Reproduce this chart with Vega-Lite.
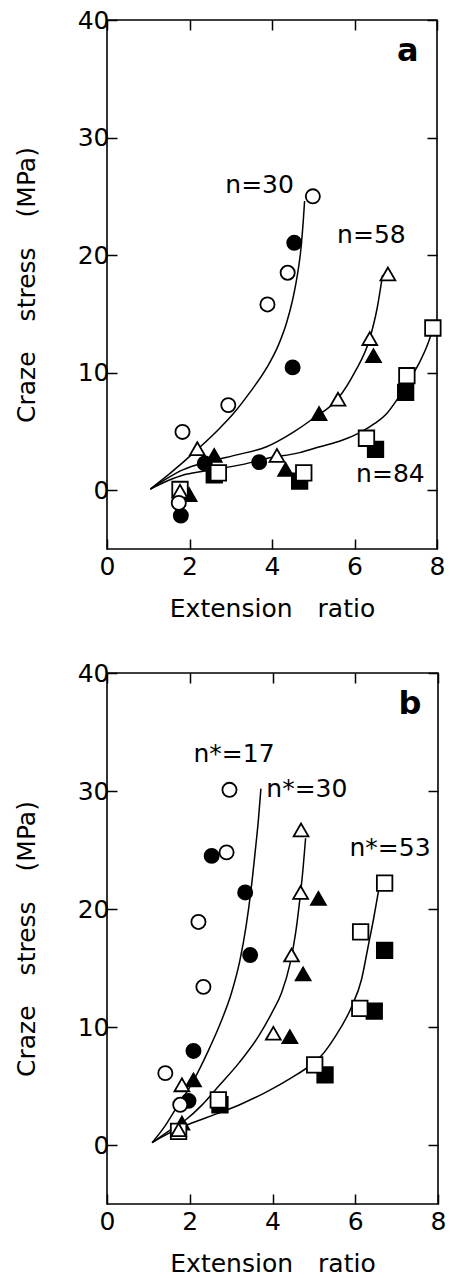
{
  "$schema": "https://vega.github.io/schema/vega-lite/v6.json",
  "background": "white",
  "padding": {"left": 13, "top": 7, "right": 5, "bottom": 5},
  "bounds": "flush",
  "spacing": 124,
  "config": {
    "font": "DejaVu Sans",
    "view": {"stroke": "black", "strokeWidth": 1.6},
    "axis": {
      "grid": false, "domain": false, "tickColor": "black", "tickSize": -10, "tickWidth": 1.5,
      "labelFont": "DejaVu Sans", "labelFontSize": 25, "labelColor": "black", "labelFlush": false,
      "titleFont": "DejaVu Sans", "titleFontSize": 25, "titleFontWeight": "normal", "titleColor": "black",
      "labelPadding": 8
    }
  },
  "datasets": {
    "pts": [
      {"p": "a", "s": "q", "f": "f", "x": 7.24, "y": 8.32},
      {"p": "a", "s": "q", "f": "f", "x": 6.51, "y": 3.48},
      {"p": "a", "s": "q", "f": "f", "x": 4.67, "y": 0.77},
      {"p": "a", "s": "q", "f": "f", "x": 2.6, "y": 1.3},
      {"p": "a", "s": "t", "f": "f", "x": 6.46, "y": 11.45},
      {"p": "a", "s": "t", "f": "f", "x": 5.14, "y": 6.52},
      {"p": "a", "s": "t", "f": "f", "x": 2.6, "y": 2.96},
      {"p": "a", "s": "t", "f": "f", "x": 4.33, "y": 1.77},
      {"p": "a", "s": "t", "f": "f", "x": 1.99, "y": -0.37},
      {"p": "a", "s": "c", "f": "f", "x": 4.54, "y": 21.05},
      {"p": "a", "s": "c", "f": "f", "x": 4.5, "y": 10.45},
      {"p": "a", "s": "c", "f": "f", "x": 3.69, "y": 2.39},
      {"p": "a", "s": "c", "f": "f", "x": 2.37, "y": 2.28},
      {"p": "a", "s": "c", "f": "f", "x": 1.79, "y": -2.16},
      {"p": "a", "s": "q", "f": "o", "x": 7.9, "y": 13.8},
      {"p": "a", "s": "q", "f": "o", "x": 7.27, "y": 9.74},
      {"p": "a", "s": "q", "f": "o", "x": 6.29, "y": 4.42},
      {"p": "a", "s": "q", "f": "o", "x": 4.77, "y": 1.48},
      {"p": "a", "s": "q", "f": "o", "x": 2.7, "y": 1.48},
      {"p": "a", "s": "q", "f": "o", "x": 1.77, "y": 0.06},
      {"p": "a", "s": "t", "f": "o", "x": 6.81, "y": 18.4},
      {"p": "a", "s": "t", "f": "o", "x": 6.37, "y": 12.9},
      {"p": "a", "s": "t", "f": "o", "x": 5.6, "y": 7.75},
      {"p": "a", "s": "t", "f": "o", "x": 4.12, "y": 2.96},
      {"p": "a", "s": "t", "f": "o", "x": 2.19, "y": 3.53},
      {"p": "a", "s": "t", "f": "o", "x": 1.77, "y": -0.09},
      {"p": "a", "s": "c", "f": "o", "x": 4.99, "y": 25.0},
      {"p": "a", "s": "c", "f": "o", "x": 4.38, "y": 18.5},
      {"p": "a", "s": "c", "f": "o", "x": 3.89, "y": 15.8},
      {"p": "a", "s": "c", "f": "o", "x": 2.94, "y": 7.24},
      {"p": "a", "s": "c", "f": "o", "x": 1.83, "y": 4.96},
      {"p": "a", "s": "c", "f": "o", "x": 1.74, "y": -1.08},
      {"p": "b", "s": "q", "f": "f", "x": 6.71, "y": 16.5},
      {"p": "b", "s": "q", "f": "f", "x": 6.46, "y": 11.35},
      {"p": "b", "s": "q", "f": "f", "x": 5.27, "y": 5.94},
      {"p": "b", "s": "q", "f": "f", "x": 2.73, "y": 3.41},
      {"p": "b", "s": "t", "f": "f", "x": 5.11, "y": 20.9},
      {"p": "b", "s": "t", "f": "f", "x": 4.74, "y": 14.5},
      {"p": "b", "s": "t", "f": "f", "x": 4.42, "y": 9.18},
      {"p": "b", "s": "t", "f": "f", "x": 2.09, "y": 5.52},
      {"p": "b", "s": "t", "f": "f", "x": 1.81, "y": 1.86},
      {"p": "b", "s": "c", "f": "f", "x": 2.53, "y": 24.5},
      {"p": "b", "s": "c", "f": "f", "x": 3.34, "y": 21.4},
      {"p": "b", "s": "c", "f": "f", "x": 3.46, "y": 16.1},
      {"p": "b", "s": "c", "f": "f", "x": 2.09, "y": 7.97},
      {"p": "b", "s": "c", "f": "f", "x": 1.97, "y": 3.74},
      {"p": "b", "s": "q", "f": "o", "x": 6.71, "y": 22.2},
      {"p": "b", "s": "q", "f": "o", "x": 6.13, "y": 18.06},
      {"p": "b", "s": "q", "f": "o", "x": 6.11, "y": 11.58},
      {"p": "b", "s": "q", "f": "o", "x": 5.02, "y": 6.79},
      {"p": "b", "s": "q", "f": "o", "x": 2.69, "y": 3.83},
      {"p": "b", "s": "q", "f": "o", "x": 1.73, "y": 1.15},
      {"p": "b", "s": "t", "f": "o", "x": 4.69, "y": 26.7},
      {"p": "b", "s": "t", "f": "o", "x": 4.68, "y": 21.4},
      {"p": "b", "s": "t", "f": "o", "x": 4.46, "y": 16.1},
      {"p": "b", "s": "t", "f": "o", "x": 4.02, "y": 9.47},
      {"p": "b", "s": "t", "f": "o", "x": 1.81, "y": 5.1},
      {"p": "b", "s": "t", "f": "o", "x": 1.73, "y": 1.29},
      {"p": "b", "s": "c", "f": "o", "x": 2.96, "y": 30.1},
      {"p": "b", "s": "c", "f": "o", "x": 2.89, "y": 24.8},
      {"p": "b", "s": "c", "f": "o", "x": 2.21, "y": 18.9},
      {"p": "b", "s": "c", "f": "o", "x": 2.33, "y": 13.4},
      {"p": "b", "s": "c", "f": "o", "x": 1.41, "y": 6.09},
      {"p": "b", "s": "c", "f": "o", "x": 1.77, "y": 3.41}
    ],
    "curves": [
      {"p": "a", "c": "n30", "x": 1.05, "y": 0.1},
      {"p": "a", "c": "n30", "x": 1.55, "y": 1.5},
      {"p": "a", "c": "n30", "x": 2.2, "y": 3.5},
      {"p": "a", "c": "n30", "x": 2.74, "y": 5.3},
      {"p": "a", "c": "n30", "x": 3.06, "y": 6.5},
      {"p": "a", "c": "n30", "x": 3.46, "y": 8.3},
      {"p": "a", "c": "n30", "x": 3.87, "y": 10.4},
      {"p": "a", "c": "n30", "x": 4.15, "y": 12.3},
      {"p": "a", "c": "n30", "x": 4.35, "y": 14.2},
      {"p": "a", "c": "n30", "x": 4.5, "y": 16.2},
      {"p": "a", "c": "n30", "x": 4.6, "y": 18.0},
      {"p": "a", "c": "n30", "x": 4.7, "y": 20.5},
      {"p": "a", "c": "n30", "x": 4.76, "y": 23.0},
      {"p": "a", "c": "n30", "x": 4.79, "y": 24.6},
      {"p": "a", "c": "n58", "x": 1.05, "y": 0.1},
      {"p": "a", "c": "n58", "x": 1.5, "y": 1.1},
      {"p": "a", "c": "n58", "x": 1.85, "y": 1.75},
      {"p": "a", "c": "n58", "x": 2.3, "y": 2.3},
      {"p": "a", "c": "n58", "x": 2.65, "y": 2.6},
      {"p": "a", "c": "n58", "x": 3.2, "y": 3.05},
      {"p": "a", "c": "n58", "x": 3.87, "y": 3.7},
      {"p": "a", "c": "n58", "x": 4.5, "y": 4.9},
      {"p": "a", "c": "n58", "x": 5.0, "y": 6.1},
      {"p": "a", "c": "n58", "x": 5.6, "y": 7.8},
      {"p": "a", "c": "n58", "x": 6.0, "y": 10.0},
      {"p": "a", "c": "n58", "x": 6.37, "y": 12.9},
      {"p": "a", "c": "n58", "x": 6.55, "y": 15.5},
      {"p": "a", "c": "n58", "x": 6.68, "y": 18.3},
      {"p": "a", "c": "n84", "x": 1.05, "y": 0.1},
      {"p": "a", "c": "n84", "x": 1.5, "y": 0.85},
      {"p": "a", "c": "n84", "x": 1.85, "y": 1.3},
      {"p": "a", "c": "n84", "x": 2.3, "y": 1.6},
      {"p": "a", "c": "n84", "x": 2.66, "y": 1.8},
      {"p": "a", "c": "n84", "x": 3.3, "y": 2.2},
      {"p": "a", "c": "n84", "x": 3.87, "y": 2.7},
      {"p": "a", "c": "n84", "x": 4.67, "y": 3.2},
      {"p": "a", "c": "n84", "x": 5.16, "y": 3.7},
      {"p": "a", "c": "n84", "x": 5.7, "y": 4.25},
      {"p": "a", "c": "n84", "x": 6.13, "y": 4.9},
      {"p": "a", "c": "n84", "x": 6.5, "y": 5.7},
      {"p": "a", "c": "n84", "x": 6.8, "y": 6.6},
      {"p": "a", "c": "n84", "x": 7.05, "y": 7.8},
      {"p": "a", "c": "n84", "x": 7.35, "y": 9.5},
      {"p": "a", "c": "n84", "x": 7.58, "y": 10.9},
      {"p": "a", "c": "n84", "x": 7.75, "y": 12.2},
      {"p": "a", "c": "n84", "x": 7.9, "y": 13.7},
      {"p": "b", "c": "n17", "x": 1.09, "y": 0.2},
      {"p": "b", "c": "n17", "x": 1.4, "y": 1.6},
      {"p": "b", "c": "n17", "x": 1.65, "y": 3.0},
      {"p": "b", "c": "n17", "x": 2.05, "y": 5.2},
      {"p": "b", "c": "n17", "x": 2.45, "y": 8.0},
      {"p": "b", "c": "n17", "x": 2.75, "y": 10.4},
      {"p": "b", "c": "n17", "x": 3.01, "y": 12.9},
      {"p": "b", "c": "n17", "x": 3.21, "y": 15.6},
      {"p": "b", "c": "n17", "x": 3.36, "y": 18.5},
      {"p": "b", "c": "n17", "x": 3.48, "y": 21.6},
      {"p": "b", "c": "n17", "x": 3.58, "y": 24.8},
      {"p": "b", "c": "n17", "x": 3.66, "y": 27.6},
      {"p": "b", "c": "n17", "x": 3.72, "y": 30.2},
      {"p": "b", "c": "n30", "x": 1.09, "y": 0.2},
      {"p": "b", "c": "n30", "x": 1.5, "y": 1.2},
      {"p": "b", "c": "n30", "x": 1.89, "y": 2.1},
      {"p": "b", "c": "n30", "x": 2.3, "y": 3.4},
      {"p": "b", "c": "n30", "x": 2.69, "y": 4.95},
      {"p": "b", "c": "n30", "x": 3.2, "y": 7.0},
      {"p": "b", "c": "n30", "x": 3.66, "y": 9.2},
      {"p": "b", "c": "n30", "x": 4.0, "y": 11.3},
      {"p": "b", "c": "n30", "x": 4.22, "y": 12.9},
      {"p": "b", "c": "n30", "x": 4.42, "y": 15.3},
      {"p": "b", "c": "n30", "x": 4.56, "y": 18.0},
      {"p": "b", "c": "n30", "x": 4.66, "y": 20.8},
      {"p": "b", "c": "n30", "x": 4.74, "y": 23.5},
      {"p": "b", "c": "n30", "x": 4.8, "y": 26.0},
      {"p": "b", "c": "n53", "x": 1.09, "y": 0.2},
      {"p": "b", "c": "n53", "x": 1.5, "y": 1.0},
      {"p": "b", "c": "n53", "x": 2.05, "y": 1.86},
      {"p": "b", "c": "n53", "x": 2.7, "y": 2.7},
      {"p": "b", "c": "n53", "x": 3.26, "y": 3.5},
      {"p": "b", "c": "n53", "x": 3.8, "y": 4.4},
      {"p": "b", "c": "n53", "x": 4.22, "y": 5.2},
      {"p": "b", "c": "n53", "x": 4.6, "y": 6.0},
      {"p": "b", "c": "n53", "x": 4.9, "y": 6.7},
      {"p": "b", "c": "n53", "x": 5.19, "y": 7.6},
      {"p": "b", "c": "n53", "x": 5.5, "y": 9.1},
      {"p": "b", "c": "n53", "x": 5.91, "y": 11.7},
      {"p": "b", "c": "n53", "x": 6.15, "y": 14.0},
      {"p": "b", "c": "n53", "x": 6.31, "y": 16.8},
      {"p": "b", "c": "n53", "x": 6.45, "y": 19.3},
      {"p": "b", "c": "n53", "x": 6.56, "y": 21.5},
      {"p": "b", "c": "n53", "x": 6.62, "y": 22.6}
    ],
    "labels": [
      {"p": "a", "t": "n=30", "x": 3.7, "y": 26.0},
      {"p": "a", "t": "n=58", "x": 6.41, "y": 21.7},
      {"p": "a", "t": "n=84", "x": 6.87, "y": 1.34},
      {"p": "b", "t": "n*=17", "x": 3.07, "y": 33.1},
      {"p": "b", "t": "n*=30", "x": 4.83, "y": 30.2},
      {"p": "b", "t": "n*=53", "x": 6.84, "y": 25.2}
    ],
    "letters": [
      {"p": "a", "t": "a", "x": 7.29, "y": 37.4},
      {"p": "b", "t": "b", "x": 7.32, "y": 37.4}
    ]
  },
  "vconcat": [
    {
      "width": 330, "height": 529,
      "layer": [
        {
          "data": {"name": "curves"},
          "transform": [{"filter": "datum.p === 'a'"}],
          "mark": {"type": "line", "color": "black", "strokeWidth": 1.5, "interpolate": "monotone"},
          "encoding": {
            "x": {"field": "x", "type": "quantitative", "scale": {"domain": [0, 8], "nice": false, "zero": false},
                  "axis": {"orient": "bottom", "values": [0, 2, 4, 6, 8], "title": "Extension\u2003ratio", "labelPadding": 15, "titlePadding": 17}},
            "y": {"field": "y", "type": "quantitative", "scale": {"domain": [-5, 40], "nice": false, "zero": false},
                  "axis": {"orient": "left", "values": [0, 10, 20, 30, 40], "title": "Craze\u2003\u2009stress\u2003\u2009(MPa)", "titlePadding": 38}},
            "detail": {"field": "c"}
          }
        },
        {
          "data": {"name": "pts"},
          "transform": [{"filter": "datum.p === 'a'"}],
          "mark": {"type": "point", "filled": false, "stroke": "black", "strokeWidth": 1.8, "opacity": 1},
          "encoding": {
            "x": {"field": "x", "type": "quantitative", "axis": null},
            "y": {"field": "y", "type": "quantitative", "axis": null},
            "shape": {"field": "s", "scale": {"domain": ["c", "t", "q"], "range": ["circle", "triangle-up", "square"]}, "legend": null},
            "fill": {"field": "f", "scale": {"domain": ["o", "f"], "range": ["white", "black"]}, "legend": null},
            "size": {"field": "s", "type": "nominal", "scale": {"domain": ["c", "t", "q"], "range": [200, 240, 200]}, "legend": null}
          }
        },
        {
          "data": {"name": "labels"},
          "transform": [{"filter": "datum.p === 'a'"}],
          "mark": {"type": "text", "fontSize": 25, "font": "DejaVu Sans", "align": "center", "baseline": "middle", "color": "black"},
          "encoding": {
            "x": {"field": "x", "type": "quantitative", "axis": {"orient": "top", "values": [0, 2, 4, 6, 8], "labels": false, "title": null}},
            "y": {"field": "y", "type": "quantitative", "axis": {"orient": "right", "values": [0, 10, 20, 30, 40], "labels": false, "title": null}},
            "text": {"field": "t"}
          }
        },
        {
          "data": {"name": "letters"},
          "transform": [{"filter": "datum.p === 'a'"}],
          "mark": {"type": "text", "fontSize": 32, "fontWeight": "bold", "font": "DejaVu Sans", "align": "center", "baseline": "middle", "color": "black"},
          "encoding": {
            "x": {"field": "x", "type": "quantitative", "axis": null},
            "y": {"field": "y", "type": "quantitative", "axis": null},
            "text": {"field": "t"}
          }
        }
      ]
    },
    {
      "width": 331, "height": 531,
      "layer": [
        {
          "data": {"name": "curves"},
          "transform": [{"filter": "datum.p === 'b'"}],
          "mark": {"type": "line", "color": "black", "strokeWidth": 1.5, "interpolate": "monotone"},
          "encoding": {
            "x": {"field": "x", "type": "quantitative", "scale": {"domain": [0, 8], "nice": false, "zero": false},
                  "axis": {"orient": "bottom", "values": [0, 2, 4, 6, 8], "title": "Extension\u2003ratio", "labelPadding": 15, "titlePadding": 17}},
            "y": {"field": "y", "type": "quantitative", "scale": {"domain": [-5, 40], "nice": false, "zero": false},
                  "axis": {"orient": "left", "values": [0, 10, 20, 30, 40], "title": "Craze\u2003\u2009stress\u2003\u2009(MPa)", "titlePadding": 38}},
            "detail": {"field": "c"}
          }
        },
        {
          "data": {"name": "pts"},
          "transform": [{"filter": "datum.p === 'b'"}],
          "mark": {"type": "point", "filled": false, "stroke": "black", "strokeWidth": 1.8, "opacity": 1},
          "encoding": {
            "x": {"field": "x", "type": "quantitative", "axis": null},
            "y": {"field": "y", "type": "quantitative", "axis": null},
            "shape": {"field": "s", "scale": {"domain": ["c", "t", "q"], "range": ["circle", "triangle-up", "square"]}, "legend": null},
            "fill": {"field": "f", "scale": {"domain": ["o", "f"], "range": ["white", "black"]}, "legend": null},
            "size": {"field": "s", "type": "nominal", "scale": {"domain": ["c", "t", "q"], "range": [200, 240, 200]}, "legend": null}
          }
        },
        {
          "data": {"name": "labels"},
          "transform": [{"filter": "datum.p === 'b'"}],
          "mark": {"type": "text", "fontSize": 25, "font": "DejaVu Sans", "align": "center", "baseline": "middle", "color": "black"},
          "encoding": {
            "x": {"field": "x", "type": "quantitative", "axis": {"orient": "top", "values": [0, 2, 4, 6, 8], "labels": false, "title": null}},
            "y": {"field": "y", "type": "quantitative", "axis": {"orient": "right", "values": [0, 10, 20, 30, 40], "labels": false, "title": null}},
            "text": {"field": "t"}
          }
        },
        {
          "data": {"name": "letters"},
          "transform": [{"filter": "datum.p === 'b'"}],
          "mark": {"type": "text", "fontSize": 32, "fontWeight": "bold", "font": "DejaVu Sans", "align": "center", "baseline": "middle", "color": "black"},
          "encoding": {
            "x": {"field": "x", "type": "quantitative", "axis": null},
            "y": {"field": "y", "type": "quantitative", "axis": null},
            "text": {"field": "t"}
          }
        }
      ]
    }
  ]
}
